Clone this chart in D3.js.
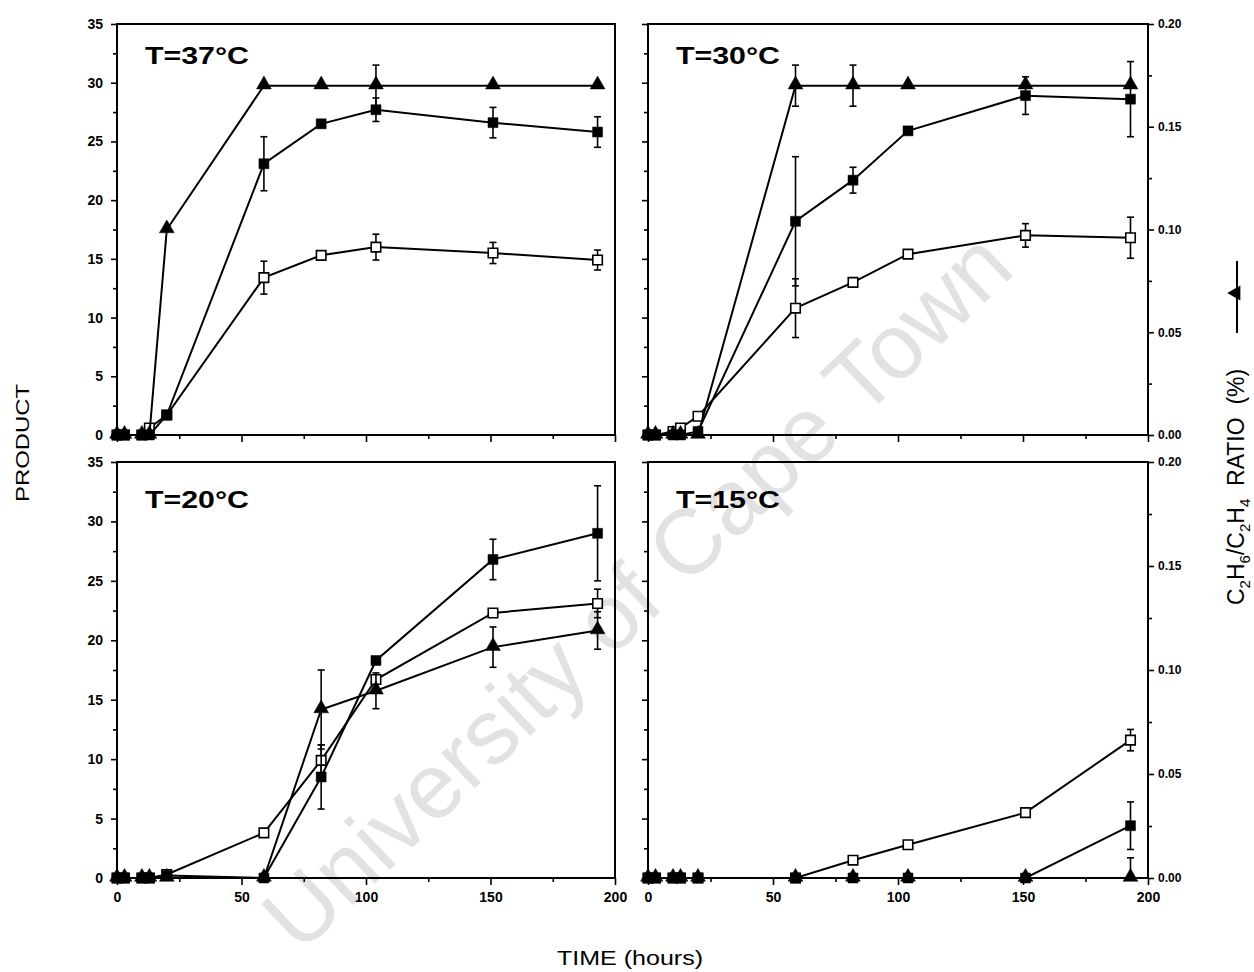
<!DOCTYPE html>
<html>
<head>
<meta charset="utf-8">
<script src="https://cdn.jsdelivr.net/npm/d3@7"></script>
<style>
  body { margin: 0; background: #fff; }
  svg { display: block; font-family: "Liberation Sans", Arial, sans-serif; }
</style>
</head>
<body>
<svg id="chart" width="1254" height="972"></svg>
<script>
// sampling times in hours, shared by every series
const times = [0, 3, 10, 13, 20, 59, 82, 104, 151, 193];
const titles = ["T=37\u00b0C", "T=30\u00b0C", "T=20\u00b0C", "T=15\u00b0C"];
const productTicks = [0, 5, 10, 15, 20, 25, 30, 35];
const ratioTicks = [0, 0.05, 0.10, 0.15, 0.20];
const timeTicks = [0, 50, 100, 150, 200];

// filled squares (PRODUCT, left axis)
const filled37 = [0, 0, 0, 0, 1.7, 23.1, 26.5, 27.7, 26.6, 25.8];
const filledErr37 = [0, 0, 0, 0, 0, 2.3, 0.3, 1.0, 1.3, 1.3];
const filled30 = [0, 0, 0, 0, 0.3, 18.2, 21.7, 25.9, 28.9, 28.6];
const filledErr30 = [0, 0, 0, 0, 0, 5.5, 1.1, 0, 1.6, 3.2];
const filled20 = [0, 0, 0, 0, 0.2, 0, 8.5, 18.3, 26.8, 29.0];
const filledErr20 = [0, 0, 0, 0, 0, 0, 2.7, 0, 1.7, 4.0];
const filled15 = [0, 0, 0, 0, 0, 0, 0, 0, 0, 4.4];
const filledErr15 = [0, 0, 0, 0, 0, 0, 0, 0, 0, 2.0];

// open squares (PRODUCT, left axis)
const open37 = [0, 0, 0, 0.6, 1.7, 13.4, 15.3, 16.0, 15.5, 14.9];
const openErr37 = [0, 0, 0, 0, 0, 1.4, 0, 1.1, 0.9, 0.85];
const open30 = [0, 0, 0.3, 0.6, 1.6, 10.8, 13.0, 15.4, 17.0, 16.8];
const openErr30 = [0, 0, 0, 0, 0, 2.5, 0, 0, 1.0, 1.75];
const open20 = [0, 0, 0, 0, 0.3, 3.8, 9.9, 16.7, 22.3, 23.1];
const openErr20 = [0, 0, 0, 0, 0, 0, 1.3, 0, 0, 1.2];
const open15 = [0, 0, 0, 0, 0, 0, 1.5, 2.8, 5.5, 11.6];
const openErr15 = [0, 0, 0, 0, 0, 0, 0, 0, 0, 0.9];

// triangles: C2H6/C2H4 ratio (%), right axis
const ratio37 = [0, 0, 0, 0, 0.100, 0.170, 0.170, 0.170, 0.170, 0.170];
const ratioErr37 = [0, 0, 0, 0, 0, 0, 0, 0.010, 0, 0];
const ratio30 = [0, 0, 0, 0, 0, 0.170, 0.170, 0.170, 0.170, 0.170];
const ratioErr30 = [0, 0, 0, 0, 0, 0.010, 0.010, 0, 0, 0];
const ratio20 = [0, 0, 0, 0, 0, 0, 0.081, 0.090, 0.111, 0.119];
const ratioErr20 = [0, 0, 0, 0, 0, 0, 0.019, 0.0086, 0.0097, 0.009];
const ratio15 = [0, 0, 0, 0, 0, 0, 0, 0, 0, 0];
const ratioErr15 = [0, 0, 0, 0, 0, 0, 0, 0, 0, 0.0097];

const panels = [
    { title: titles[0], col: 0, row: 0, filled: filled37, filledErr: filledErr37, open: open37, openErr: openErr37, ratio: ratio37, ratioErr: ratioErr37 },
    { title: titles[1], col: 1, row: 0, filled: filled30, filledErr: filledErr30, open: open30, openErr: openErr30, ratio: ratio30, ratioErr: ratioErr30 },
    { title: titles[2], col: 0, row: 1, filled: filled20, filledErr: filledErr20, open: open20, openErr: openErr20, ratio: ratio20, ratioErr: ratioErr20 },
    { title: titles[3], col: 1, row: 1, filled: filled15, filledErr: filledErr15, open: open15, openErr: openErr15, ratio: ratio15, ratioErr: ratioErr15 }
];

const colX = [[117, 615], [648, 1148]];
const rowY = [[24, 435], [462, 878]];

const svg = d3.select("#chart");

// scan watermark
svg.append("text")
    .attr("transform", "translate(300,955) rotate(-43.6)")
    .attr("font-size", 92)
    .attr("fill", "#e2e2e2")
    .text("University of Cape Town");

let styleAxis = (g, size) => {
    g.select(".domain").remove();
    g.selectAll(".tick line").attr("stroke", "#000").attr("stroke-width", 1.6);
    g.selectAll("text").attr("fill", "#000").attr("font-weight", "bold")
        .attr("font-size", size).attr("font-family", "'Liberation Sans', Arial, sans-serif");
};

panels.forEach(p => {
    let [x0, x1] = colX[p.col];
    let [y0, y1] = rowY[p.row];
    let x = d3.scaleLinear().domain([0, 200]).range([x0, x1]);
    let y = d3.scaleLinear().domain([0, 35]).range([y1, y0]);
    let yR = d3.scaleLinear().domain([0, 0.2]).range([y1, y0]);
    let g = svg.append("g");

    // left axis
    g.append("g").attr("transform", `translate(${x0},0)`)
        .call(d3.axisLeft(y).tickValues(d3.range(2.5, 35, 5)).tickSize(4).tickFormat(""))
        .call(a => styleAxis(a, 14));
    g.append("g").attr("transform", `translate(${x0},0)`)
        .call(d3.axisLeft(y).tickValues(productTicks).tickSize(6).tickPadding(8)
            .tickFormat(p.col === 0 ? d3.format("d") : ""))
        .call(a => styleAxis(a, 14));

    // bottom axis
    g.append("g").attr("transform", `translate(0,${y1})`)
        .call(d3.axisBottom(x).tickValues(d3.range(25, 200, 50)).tickSize(4).tickFormat(""))
        .call(a => styleAxis(a, 14));
    g.append("g").attr("transform", `translate(0,${y1})`)
        .call(d3.axisBottom(x).tickValues(timeTicks).tickSize(7).tickPadding(7)
            .tickFormat(p.row === 1 ? d3.format("d") : ""))
        .call(a => styleAxis(a, 14));

    // right axis (ratio) on right column only
    if (p.col === 1) {
        g.append("g").attr("transform", `translate(${x1},0)`)
            .call(d3.axisRight(yR).tickValues(d3.range(0.025, 0.2, 0.05)).tickSize(4).tickFormat(""))
            .call(a => styleAxis(a, 12));
        g.append("g").attr("transform", `translate(${x1},0)`)
            .call(d3.axisRight(yR).tickValues(ratioTicks).tickSize(6).tickPadding(4).tickFormat(d3.format(".2f")))
            .call(a => styleAxis(a, 12));
    }

    // frame
    g.append("rect")
        .attr("x", x0).attr("y", y0)
        .attr("width", x1 - x0).attr("height", y1 - y0)
        .attr("fill", "none").attr("stroke", "#000").attr("stroke-width", 2);

    // title
    g.append("text")
        .attr("x", x0 + 28).attr("y", y0 + (p.row === 0 ? 40 : 46))
        .attr("font-size", 24).attr("font-weight", "bold")
        .attr("textLength", 104).attr("lengthAdjust", "spacingAndGlyphs")
        .text(p.title);

    let drawSeries = (vals, errs, scale, kind) => {
        let pts = times.map((t, i) => ({ t: t, v: vals[i], e: errs[i] }));
        let line = d3.line().x(d => x(d.t)).y(d => scale(d.v));
        g.append("path").datum(pts)
            .attr("d", line)
            .attr("fill", "none").attr("stroke", "#000").attr("stroke-width", 2);

        let eb = g.append("g").attr("stroke", "#000").attr("stroke-width", 1.6);
        pts.filter(d => d.e > 0).forEach(d => {
            let lo = scale(Math.max(0, d.v - d.e)), hi = scale(d.v + d.e), cx = x(d.t);
            eb.append("line").attr("x1", cx).attr("x2", cx).attr("y1", lo).attr("y2", hi);
            eb.append("line").attr("x1", cx - 3.5).attr("x2", cx + 3.5).attr("y1", hi).attr("y2", hi);
            if (d.v - d.e > 0) {
                eb.append("line").attr("x1", cx - 3.5).attr("x2", cx + 3.5).attr("y1", lo).attr("y2", lo);
            }
        });

        let sym = kind === "tri"
            ? d3.symbol().type(d3.symbolTriangle).size(95)
            : d3.symbol().type(d3.symbolSquare).size(kind === "open" ? 90 : 100);
        g.append("g").selectAll("path")
            .data(pts)
            .join("path")
            .attr("transform", d => `translate(${x(d.t)},${scale(d.v) + (kind === "tri" ? -1 : 0)})`)
            .attr("d", sym)
            .attr("fill", kind === "open" ? "#fff" : "#000")
            .attr("stroke", "#000")
            .attr("stroke-width", kind === "open" ? 1.6 : 0.5);
    };

    drawSeries(p.open, p.openErr, y, "open");
    drawSeries(p.filled, p.filledErr, y, "filled");
    drawSeries(p.ratio, p.ratioErr, yR, "tri");
});

// axis titles
svg.append("text")
    .attr("transform", "translate(29,443) rotate(-90)")
    .attr("text-anchor", "middle")
    .attr("font-size", 19)
    .attr("textLength", 118).attr("lengthAdjust", "spacingAndGlyphs")
    .text("PRODUCT");

svg.append("text")
    .attr("x", 630).attr("y", 965)
    .attr("text-anchor", "middle")
    .attr("font-size", 21)
    .attr("textLength", 146).attr("lengthAdjust", "spacingAndGlyphs")
    .text("TIME (hours)");

// right axis title with legend symbol
let rl = svg.append("g").attr("transform", "translate(1244,605) rotate(-90)");
let rt = rl.append("text").attr("font-size", 23).attr("x", 0).attr("y", 0);
rt.append("tspan").text("C");
rt.append("tspan").attr("dy", 6).attr("font-size", 15).text("2");
rt.append("tspan").attr("dy", -6).text("H");
rt.append("tspan").attr("dy", 6).attr("font-size", 15).text("6");
rt.append("tspan").attr("dy", -6).text("/C");
rt.append("tspan").attr("dy", 6).attr("font-size", 15).text("2");
rt.append("tspan").attr("dy", -6).text("H");
rt.append("tspan").attr("dy", 6).attr("font-size", 15).text("4");
rt.append("tspan").attr("dy", -6).text("\u00a0\u00a0RATIO\u00a0\u00a0(%)");
rl.append("line")
    .attr("x1", 272).attr("x2", 344).attr("y1", -7).attr("y2", -7)
    .attr("stroke", "#000").attr("stroke-width", 2);
rl.append("path")
    .attr("transform", "translate(312,-8)")
    .attr("d", d3.symbol().type(d3.symbolTriangle).size(100))
    .attr("fill", "#000");
</script>
</body>
</html>
